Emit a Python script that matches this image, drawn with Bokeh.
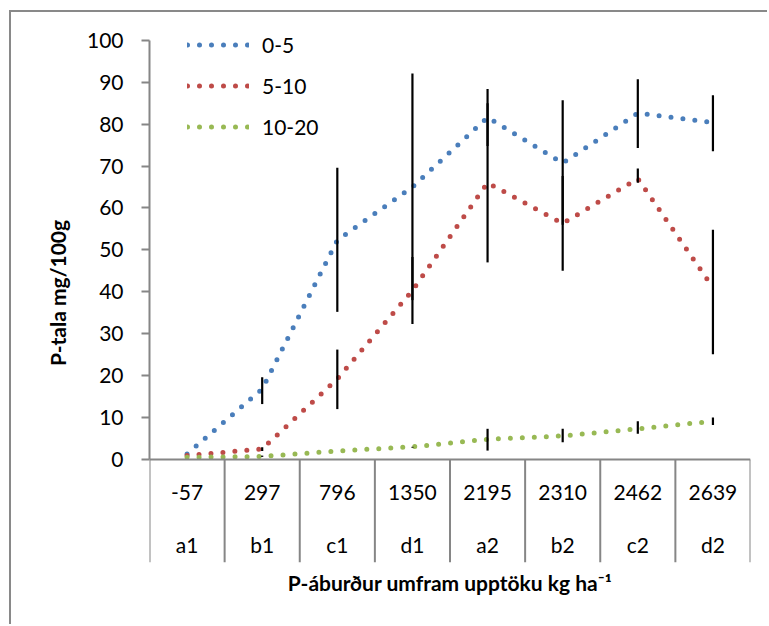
import numpy as np
from bokeh.plotting import figure
from bokeh.models import Range1d, FixedTicker, Legend, LegendItem, Span
from bokeh.core.properties import value
from bokeh.embed import file_html
from bokeh.resources import INLINE

# ---------------- data ----------------
amounts = ["-57", "297", "796", "1350", "2195", "2310", "2462", "2639"]
treatments = ["a1", "b1", "c1", "d1", "a2", "b2", "c2", "d2"]
series_names = ["0-5", "5-10", "10-20"]

depth_0_5 = [1.3, 16.8, 52.3, 65.0, 81.6, 70.7, 82.6, 80.4]
depth_0_5_low = [1.3, 13.2, 35.2, 38.0, 74.8, 56.0, 74.3, 73.5]
depth_0_5_high = [1.3, 19.6, 69.6, 92.1, 88.4, 85.7, 90.7, 86.9]

depth_5_10 = [0.9, 2.5, 19.2, 40.3, 66.0, 56.3, 67.0, 41.0]
depth_5_10_low = [0.9, 2.0, 12.0, 32.3, 47.0, 45.0, 66.0, 25.1]
depth_5_10_high = [0.9, 2.9, 26.2, 48.3, 85.0, 67.6, 69.4, 54.8]

depth_10_20 = [0.5, 0.7, 2.0, 3.0, 4.8, 5.6, 7.3, 9.1]
depth_10_20_low = [0.5, 0.6, 2.0, 2.8, 2.1, 4.1, 6.1, 8.2]
depth_10_20_high = [0.5, 0.9, 2.0, 3.0, 7.3, 7.3, 9.1, 10.0]

colors = ["#4A7EBB", "#BE4B48", "#98B954"]

FONT = "Lato"
GRAY = "#868686"

ncat = len(amounts)
centers = np.arange(ncat) + 0.5
y_bottom = -24.6

p = figure(width=758, height=614,
           x_range=Range1d(0, ncat), y_range=Range1d(y_bottom, 104),
           output_backend="svg", toolbar_location=None,
           min_border_left=138, min_border_right=19,
           min_border_top=11, min_border_bottom=64)
# chart border: only the left and top edges fall inside the picture
p.styles = {"margin-left": "9px", "margin-top": "10px",
            "border-left": "2px solid #898989", "border-top": "2px solid #898989"}
p.xgrid.visible = False
p.ygrid.visible = False
p.outline_line_color = None
p.background_fill_color = "white"
p.border_fill_color = "white"

# y axis
ya = p.yaxis[0]
ya.ticker = FixedTicker(ticks=list(range(0, 101, 10)))
ya.bounds = (0, 100)
ya.minor_tick_line_color = None
ya.major_tick_in = 0
ya.major_tick_out = 8
ya.major_tick_line_color = GRAY
ya.major_tick_line_width = 2
ya.axis_line_color = GRAY
ya.axis_line_width = 2
ya.major_label_text_font = FONT
ya.major_label_text_font_size = "21px"
ya.major_label_text_color = "black"
ya.major_label_standoff = 18
ya.axis_label = "P-tala mg/100g"
ya.axis_label_text_font = FONT
ya.axis_label_text_font_style = "bold"
ya.axis_label_text_font_size = "21px"
ya.axis_label_text_color = "black"
ya.axis_label_standoff = 14

# x axis: only carries the title
xa = p.xaxis[0]
xa.ticker = FixedTicker(ticks=[])
xa.axis_line_color = None
xa.major_tick_line_color = None
xa.minor_tick_line_color = None
xa.major_tick_out = 0
xa.axis_label = "P-áburður umfram upptöku kg ha\u207b\u00b9"
xa.axis_label_text_font = FONT
xa.axis_label_text_font_style = "bold"
xa.axis_label_text_font_size = "21px"
xa.axis_label_text_color = "black"
xa.axis_label_standoff = 7

# category table
p.add_layout(Span(location=0, dimension="width", line_color=GRAY, line_width=2))
bounds = np.arange(ncat + 1)
p.segment(x0=bounds, y0=np.zeros(ncat + 1), x1=bounds, y1=np.full(ncat + 1, y_bottom),
          line_color=GRAY, line_width=2)
p.text(x=centers, y=np.zeros(ncat), text=amounts, y_offset=33,
       text_align="center", text_baseline="middle",
       text_font=value(FONT), text_font_size="21px", text_color="black")
p.text(x=centers, y=np.zeros(ncat), text=treatments, y_offset=85,
       text_align="center", text_baseline="middle",
       text_font=value(FONT), text_font_size="21px", text_color="black")

# series
all_vals = [depth_0_5, depth_5_10, depth_10_20]
all_low = [depth_0_5_low, depth_5_10_low, depth_10_20_low]
all_high = [depth_0_5_high, depth_5_10_high, depth_10_20_high]

items = []
for name, vals, col in zip(series_names, all_vals, colors):
    r = p.line(centers, vals, line_color=col, line_width=5, line_dash="0 12",
               line_cap="round", line_join="round")
    items.append(LegendItem(label=name, renderers=[r]))

for lo, hi in zip(all_low, all_high):
    p.segment(x0=centers, y0=lo, x1=centers, y1=hi, line_color="black", line_width=2.2)

legend = Legend(items=items, location=(38, 421), padding=0, margin=0, spacing=12,
                glyph_height=29, glyph_width=62, label_height=29, label_standoff=13,
                label_text_font=FONT, label_text_font_size="21px", label_text_color="black",
                border_line_color=None, background_fill_alpha=0)
p.add_layout(legend)

open("out.html", "w").write(file_html(p, INLINE))
